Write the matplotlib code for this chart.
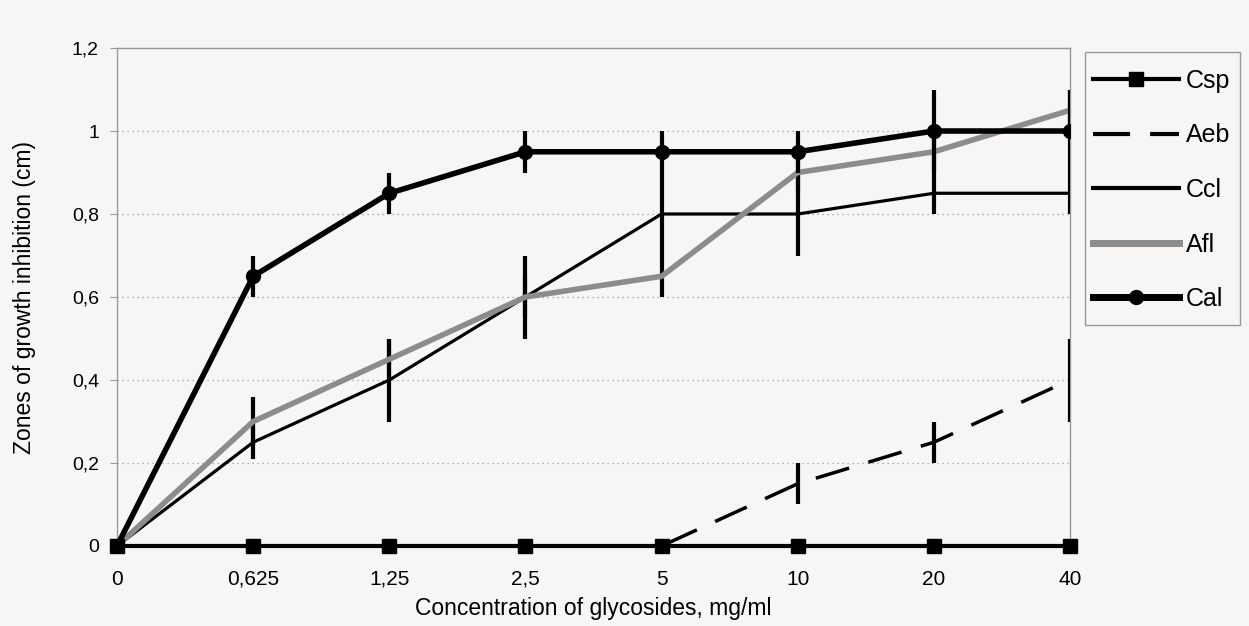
import numpy as np
import matplotlib.pyplot as plt
from matplotlib.lines import Line2D
from matplotlib.patches import Rectangle

plt.rcParams['font.family'] = ['Liberation Sans', 'DejaVu Sans']

# categorias del eje x (concentraciones)
conc = ['0', '0,625', '1,25', '2,5', '5', '10', '20', '40']

# valores de cada serie
csp = [0, 0, 0, 0, 0, 0, 0, 0]
aeb = [0, 0, 0, 0, 0, 0.15, 0.25, 0.40]
aeb_err = [0, 0, 0, 0, 0, 0.05, 0.05, 0.10]
ccl = [0, 0.25, 0.40, 0.60, 0.80, 0.80, 0.85, 0.85]
ccl_err = [0, 0.04, 0.10, 0.10, 0.10, 0.10, 0.05, 0.05]
afl = [0, 0.30, 0.45, 0.60, 0.65, 0.90, 0.95, 1.05]
afl_err = [0, 0.06, 0.05, 0.05, 0.05, 0.05, 0.05, 0.05]
cal = [0, 0.65, 0.85, 0.95, 0.95, 0.95, 1.00, 1.00]
cal_err = [0, 0.05, 0.05, 0.05, 0.05, 0.05, 0.10, 0.10]

y_ticks = [0, 0.2, 0.4, 0.6, 0.8, 1.0, 1.2]
y_labels = ['0', '0,2', '0,4', '0,6', '0,8', '1', '1,2']

bg = '#f8f6f4'
gris = '#8c8c8c'
fig = plt.figure(figsize=(12.49, 6.26), dpi=100, facecolor=bg)
ax = fig.add_axes([0.0937, 0.1278, 0.763, 0.7955])
ax.set_facecolor(bg)

x = np.arange(len(conc))
guion = (0, (10, 5.8))

ax.errorbar(x, aeb, yerr=aeb_err, c='black', lw=2.5, ls=guion,
            ecolor='black', elinewidth=3, capsize=0, zorder=3)
ax.errorbar(x, ccl, yerr=ccl_err, c='black', lw=2.3,
            ecolor='black', elinewidth=3, capsize=0, zorder=3)
ax.errorbar(x, afl, yerr=afl_err, c=gris, lw=4,
            ecolor='black', elinewidth=3, capsize=0, zorder=4)
ax.errorbar(x, cal, yerr=cal_err, c='black', lw=4, marker='o', ms=10,
            ecolor='black', elinewidth=3, capsize=0, zorder=5)
ax.plot(x, csp, c='black', lw=3, marker='s', ms=10, zorder=6, clip_on=False)

ax.set_xlim(0, len(conc) - 1)
ax.set_ylim(0, 1.2)
ax.set_xticks(x)
ax.set_xticklabels(conc)
ax.set_yticks(y_ticks)
ax.set_yticklabels(y_labels)
ax.tick_params(axis='y', labelsize=14, length=5, color='#999999', pad=8)
ax.tick_params(axis='x', labelsize=15, length=0, pad=17)

ax.yaxis.grid(True, ls=(0, (1, 3)), c='#999999', lw=0.9)
for s in ['left', 'top', 'right']:
    ax.spines[s].set_color('#999999')
    ax.spines[s].set_linewidth(1)
ax.spines['bottom'].set_color('black')

ax.set_xlabel('Concentration of glycosides, mg/ml', fontsize=16.5, labelpad=6)
ax.set_ylabel('Zones of growth inhibition (cm)', fontsize=16.5, labelpad=26)

# marco de la leyenda dibujado aparte
W, H = 1249, 626
fig.patches.append(Rectangle((1085 / W, 1 - 325 / H), 155 / W, 273 / H,
                             transform=fig.transFigure, fill=False,
                             edgecolor='#999999', lw=1))

# leyenda sin las barras de error
nombres = ['Csp', 'Aeb', 'Ccl', 'Afl', 'Cal']
manijas = [
    Line2D([], [], c='black', lw=3, marker='s', ms=10),
    Line2D([], [], c='black', lw=3, ls=(0, (8.9, 4.8))),
    Line2D([], [], c='black', lw=3),
    Line2D([], [], c=gris, lw=5),
    Line2D([], [], c='black', lw=5, marker='o', ms=10),
]
leg = fig.legend(manijas, nombres, loc='upper left',
                 bbox_to_anchor=(1093 / W, 1 - 69 / H), fontsize=18,
                 handlelength=3.45, labelspacing=1.22, handletextpad=0.25,
                 borderpad=0, borderaxespad=0, frameon=False)

fig.savefig('out.png', dpi=100, facecolor=bg)
